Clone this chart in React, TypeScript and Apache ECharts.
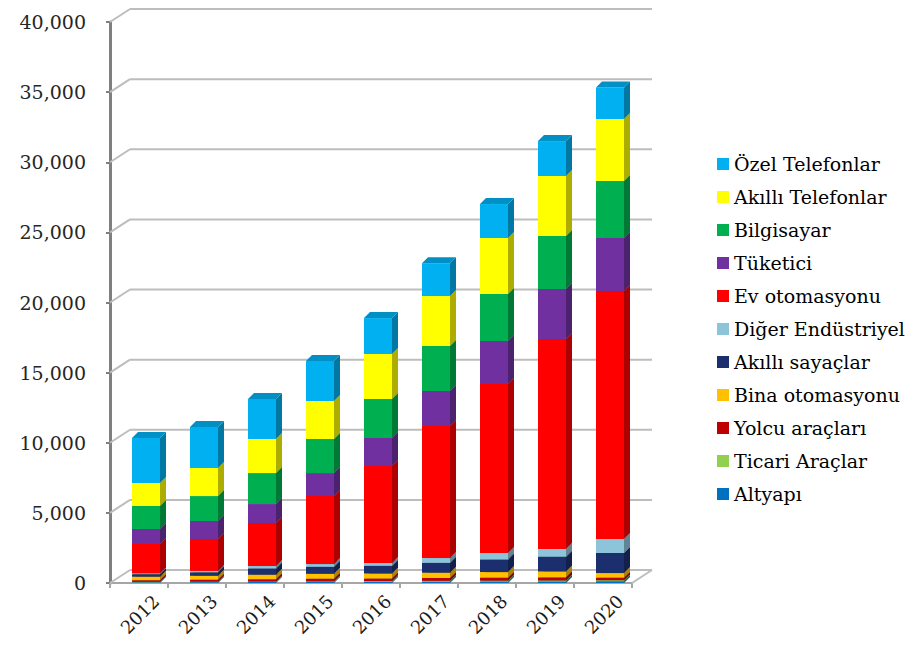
import React, { useEffect, useRef } from 'react';
import * as echarts from 'echarts';

// Categories
const years = ['2012', '2013', '2014', '2015', '2016', '2017', '2018', '2019', '2020'];

// Series values (stack order: bottom to top)
const altyapi = [50, 60, 70, 80, 90, 100, 110, 120, 130];
const ticariAraclar = [30, 35, 40, 45, 50, 55, 60, 65, 70];
const yolcuAraclari = [120, 140, 160, 180, 180, 200, 210, 220, 180];
const binaOtomasyonu = [250, 280, 320, 350, 360, 380, 400, 420, 330];
const akilliSayaclar = [180, 250, 450, 500, 540, 700, 900, 1050, 1430];
const digerEndustriyel = [70, 95, 170, 195, 210, 345, 460, 545, 1000];
const evOtomasyonu = [2080, 2280, 3070, 4850, 6910, 9410, 12050, 14980, 17680];
const tuketici = [1070, 1280, 1350, 1640, 2000, 2500, 3060, 3560, 3780];
const bilgisayar = [1640, 1780, 2210, 2430, 2780, 3210, 3350, 3780, 4060];
const akilliTelefonlar = [1640, 2000, 2430, 2710, 3210, 3560, 4000, 4280, 4420];
const ozelTelefonlar = [3210, 2920, 2850, 2850, 2560, 2340, 2420, 2490, 2250];

// Tick labels of the value axis
const yTicks = [0, 5000, 10000, 15000, 20000, 25000, 30000, 35000, 40000];

const stackNames = [
  'Altyapı',
  'Ticari Araçlar',
  'Yolcu araçları',
  'Bina otomasyonu',
  'Akıllı sayaçlar',
  'Diğer Endüstriyel',
  'Ev otomasyonu',
  'Tüketici',
  'Bilgisayar',
  'Akıllı Telefonlar',
  'Özel Telefonlar',
];
const stackValues = [
  altyapi,
  ticariAraclar,
  yolcuAraclari,
  binaOtomasyonu,
  akilliSayaclar,
  digerEndustriyel,
  evOtomasyonu,
  tuketici,
  bilgisayar,
  akilliTelefonlar,
  ozelTelefonlar,
];
const stackColors = [
  '#0070C0',
  '#92D050',
  '#C00000',
  '#FFC000',
  '#1B2F6E',
  '#8EC4DA',
  '#FF0000',
  '#7030A0',
  '#00B050',
  '#FFFF00',
  '#00B0F0',
];

const FONT = "'DejaVu Serif', 'Liberation Serif', serif";
const BAR_W = 28;
const BAR_SHIFT = 7;
const DEPTH = 6;
const WALL_DX = 20;
const WALL_DY = -13;

function shade(hex: string, f: number): string {
  const n = parseInt(hex.slice(1), 16);
  const r = Math.round(((n >> 16) & 255) * f);
  const g = Math.round(((n >> 8) & 255) * f);
  const b = Math.round((n & 255) * f);
  return 'rgb(' + r + ',' + g + ',' + b + ')';
}

function buildOption() {
  const cumulative = years.map(() => 0);
  const barSeries = stackNames.map((name, si) => {
    const color = stackColors[si];
    const side = shade(color, 0.68);
    const top = shade(color, 0.82);
    const data = years.map((_, i) => {
      const base = cumulative[i];
      const end = base + stackValues[si][i];
      cumulative[i] = end;
      return [i, base, end];
    });
    return {
      type: 'custom',
      name,
      xAxisIndex: 0,
      yAxisIndex: 0,
      z: 3,
      itemStyle: { color },
      encode: { x: 0, y: [1, 2] },
      data,
      renderItem: (params: any, api: any) => {
        const i = api.value(0);
        const p0 = api.coord([i, api.value(1)]);
        const p1 = api.coord([i, api.value(2)]);
        const x0 = p0[0] + BAR_SHIFT - BAR_W / 2;
        const x1 = x0 + BAR_W;
        const yb = p0[1];
        const yt = p1[1];
        return {
          type: 'group',
          children: [
            {
              type: 'rect',
              shape: { x: x0, y: yt, width: BAR_W, height: Math.max(0, yb - yt) },
              style: { fill: color },
            },
            {
              type: 'polygon',
              shape: { points: [[x1, yt], [x1 + DEPTH, yt - DEPTH], [x1 + DEPTH, yb - DEPTH], [x1, yb]] },
              style: { fill: side },
            },
            {
              type: 'polygon',
              shape: { points: [[x0, yt], [x0 + DEPTH, yt - DEPTH], [x1 + DEPTH, yt - DEPTH], [x1, yt]] },
              style: { fill: top },
            },
          ],
        };
      },
    };
  });

  const frameSeries = {
    type: 'custom',
    name: 'frame',
    silent: true,
    xAxisIndex: 0,
    yAxisIndex: 0,
    z: 1,
    encode: { x: 0, y: 1 },
    data: yTicks.map((v) => [0, v]),
    renderItem: (params: any, api: any) => {
      const cs = params.coordSys;
      const y = api.coord([0, api.value(1)])[1];
      const lineStyle = { stroke: '#BDBDBD', lineWidth: 2 };
      const children: any[] = [
        { type: 'line', shape: { x1: cs.x, y1: y, x2: cs.x + WALL_DX, y2: y + WALL_DY }, style: lineStyle },
        {
          type: 'line',
          shape: { x1: cs.x + WALL_DX, y1: y + WALL_DY, x2: cs.x + cs.width + WALL_DX, y2: y + WALL_DY },
          style: lineStyle,
        },
      ];
      if (api.value(1) === 0) {
        children.push({
          type: 'line',
          shape: { x1: cs.x + cs.width, y1: y, x2: cs.x + cs.width + WALL_DX, y2: y + WALL_DY },
          style: lineStyle,
        });
      }
      return { type: 'group', children };
    },
  };

  return {
    animation: false,
    backgroundColor: '#ffffff',
    grid: [
      { left: 110, right: 287, top: 22, bottom: 76 },
      { left: 127, right: 270, top: 22, bottom: 76 },
    ],
    xAxis: [
      {
        type: 'category',
        gridIndex: 0,
        data: years,
        boundaryGap: true,
        axisLine: { show: true, lineStyle: { color: '#A6A6A6', width: 2 } },
        axisTick: { show: true, length: 5, lineStyle: { color: '#A6A6A6', width: 2 } },
        axisLabel: { show: false },
        splitLine: { show: false },
      },
      {
        type: 'category',
        gridIndex: 1,
        data: years,
        boundaryGap: true,
        axisLine: { show: false },
        axisTick: { show: false },
        axisLabel: {
          show: true,
          rotate: 45,
          margin: 15,
          fontFamily: FONT,
          fontSize: 18,
          color: '#1a1a1a',
        },
        splitLine: { show: false },
      },
    ],
    yAxis: [
      {
        type: 'value',
        gridIndex: 0,
        min: 0,
        max: 40000,
        interval: 5000,
        axisLine: { show: true, lineStyle: { color: '#7F7F7F', width: 3 } },
        axisTick: { show: true, inside: false, length: 4, lineStyle: { color: '#7F7F7F', width: 2 } },
        axisLabel: {
          margin: 24,
          fontFamily: FONT,
          fontSize: 19,
          color: '#262626',
          formatter: (v: number) => v.toLocaleString('en-US'),
        },
        splitLine: { show: false },
      },
      {
        type: 'value',
        gridIndex: 1,
        min: 0,
        max: 40000,
        show: false,
      },
    ],
    legend: {
      orient: 'vertical',
      left: 712,
      top: 149,
      itemWidth: 12,
      itemHeight: 12,
      itemGap: 13,
      icon: 'rect',
      textStyle: { fontFamily: FONT, fontSize: 19, lineHeight: 20, color: '#000' },
      data: stackNames
        .map((n, i) => ({ name: n, itemStyle: { color: stackColors[i] } }))
        .reverse(),
    },
    series: [frameSeries, ...barSeries],
  };
}

export default function App() {
  const ref = useRef<HTMLDivElement>(null);
  useEffect(() => {
    if (!ref.current) return;
    const chart = echarts.init(ref.current, undefined, { renderer: 'svg' });
    chart.setOption(buildOption() as any);
    return () => chart.dispose();
  }, []);
  return (
    <div
      ref={ref}
      style={{ position: 'absolute', left: 0, top: 0, width: 919, height: 659, background: '#fff' }}
    />
  );
}
